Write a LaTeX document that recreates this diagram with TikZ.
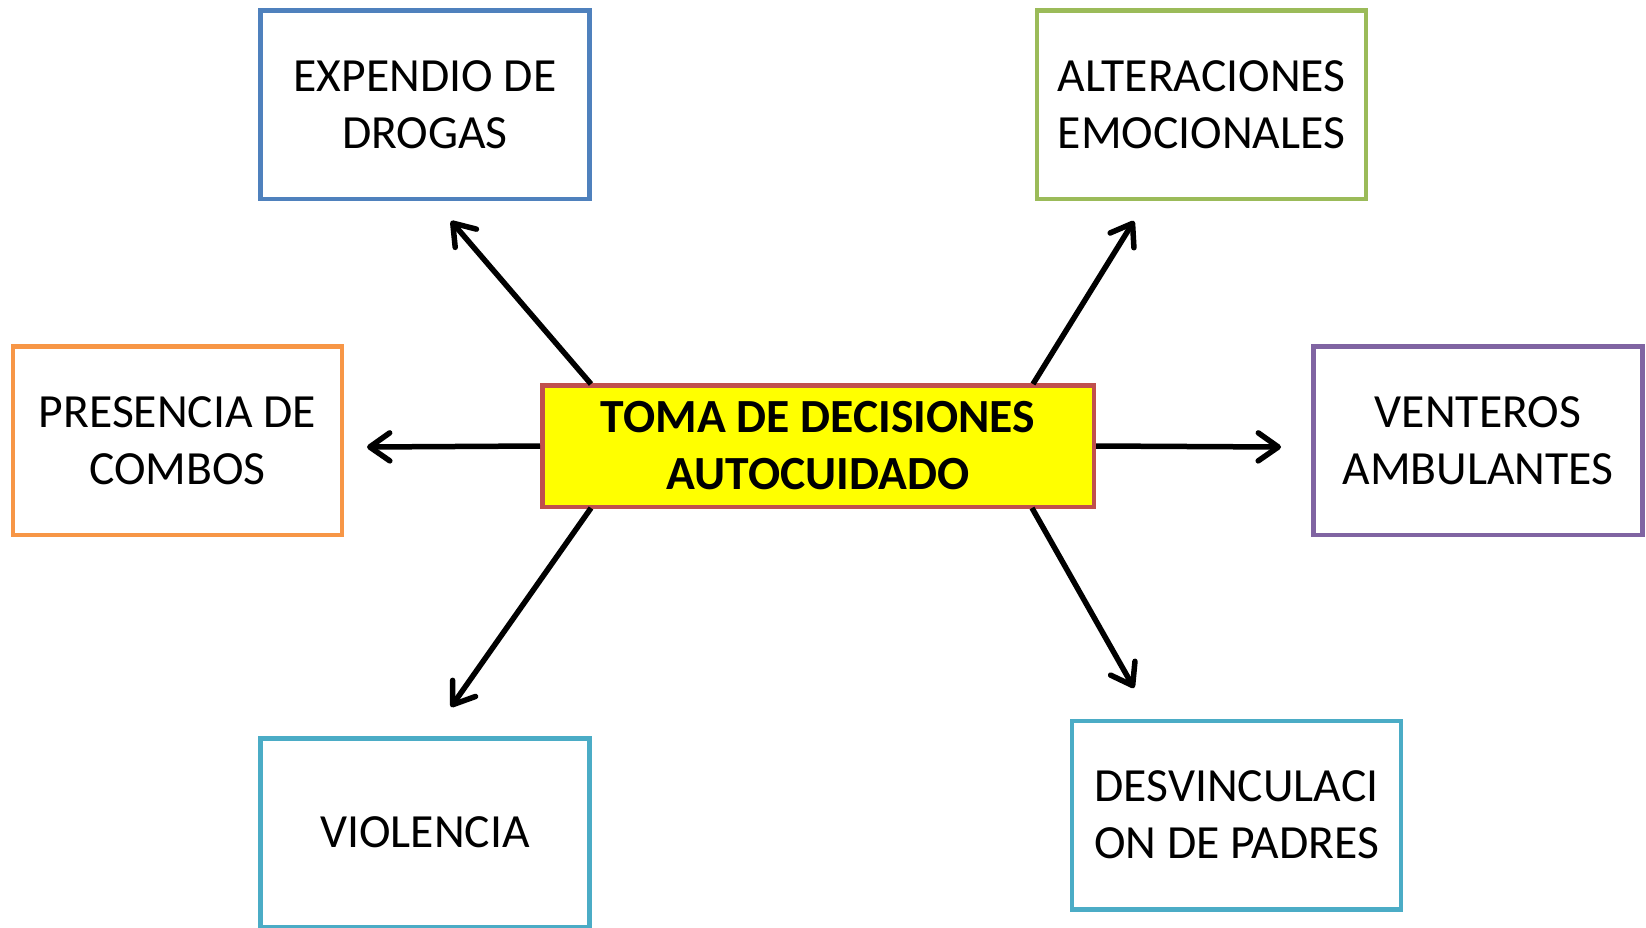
\documentclass[tikz,border=0pt]{standalone}
\usepackage{fontspec}
\setmainfont{Carlito}
\usetikzlibrary{arrows.meta}
\definecolor{cblue}{HTML}{4F81BD}
\definecolor{cgreen}{HTML}{9BBB59}
\definecolor{corange}{HTML}{F79646}
\definecolor{cpurple}{HTML}{8064A2}
\definecolor{cred}{HTML}{C0504D}
\definecolor{cteal}{HTML}{4BACC6}
\definecolor{cyell}{HTML}{FFFF00}
\begin{document}
\begin{tikzpicture}[x=1pt,y=-1pt,
  box/.style={draw, line width=4.5pt, fill=white, minimum width=329pt, minimum height=188.5pt,
    inner sep=0pt, align=center, font=\fontsize{47.6}{57}\selectfont},
  mainbox/.style={draw=cred, fill=cyell, line width=4.5pt, minimum width=551.5pt, minimum height=121.5pt,
    inner sep=0pt, align=center, font=\fontsize{47.6}{57}\selectfont\bfseries},
  arr/.style={line width=5.5pt, -{Straight Barb[length=20pt,width=28pt,round]}}]
\useasboundingbox (0,0) rectangle (1646,927);
\node[box, draw=cblue] (drog) at (425,104.5) {EXPENDIO DE\\DROGAS};
\node[box, draw=cgreen] (alt) at (1201.5,104.5) {ALTERACIONES\\EMOCIONALES};
\node[box, draw=corange] (comb) at (177.5,440.5) {PRESENCIA DE\\COMBOS};
\node[box, draw=cpurple] (vent) at (1478,440.5) {VENTEROS\\AMBULANTES};
\node[box, draw=cteal] (viol) at (425,832.5) {VIOLENCIA};
\node[box, draw=cteal] (desv) at (1236.5,815) {DESVINCULACI\\ON DE PADRES};
\node[mainbox] (c) at (818,446) {TOMA DE DECISIONES\\AUTOCUIDADO};
\coordinate (s1) at (591,384); \coordinate (t1) at (451,221);
\coordinate (s2) at (540,446); \coordinate (t2) at (367,447);
\coordinate (s3) at (1033,384); \coordinate (t3) at (1134,221);
\coordinate (s4) at (1096,446); \coordinate (t4) at (1281,447);
\coordinate (s5) at (591,508); \coordinate (t5) at (451,707);
\coordinate (s6) at (1032,508); \coordinate (t6) at (1134,688);
\draw[arr] (s1) -- (t1);
\draw[arr] (s2) -- (t2);
\draw[arr] (s3) -- (t3);
\draw[arr] (s4) -- (t4);
\draw[arr] (s5) -- (t5);
\draw[arr] (s6) -- (t6);
\end{tikzpicture}
\end{document}
